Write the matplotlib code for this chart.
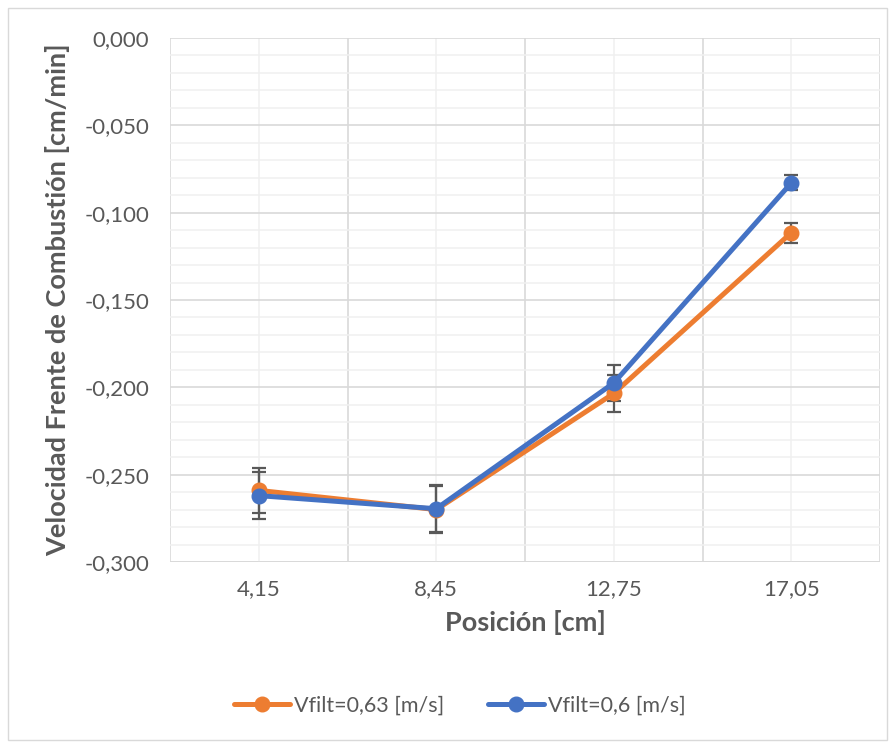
import matplotlib
matplotlib.use("Agg")
import matplotlib.pyplot as plt
from matplotlib.patches import Rectangle
from matplotlib.ticker import MultipleLocator, FixedLocator

# Data
posiciones = ["4,15", "8,45", "12,75", "17,05"]
vel_063 = [-0.259, -0.270, -0.2035, -0.1115]
err_063 = [0.013, 0.0135, 0.0105, 0.0057]
vel_06 = [-0.262, -0.2695, -0.1975, -0.083]
err_06 = [0.0135, 0.0135, 0.0105, 0.0043]
series_labels = ["Vfilt=0,63 [m/s]", "Vfilt=0,6 [m/s]"]
y_ticks = [0.0, -0.05, -0.10, -0.15, -0.20, -0.25, -0.30]

ORANGE = "#ED7D31"
BLUE = "#4472C4"
TXT = "#595959"
FONT = ["Lato", "DejaVu Sans"]

plt.rcParams["font.family"] = FONT

fig = plt.figure(figsize=(8.94, 7.47), dpi=100)
# chart border
fig.patches.append(Rectangle((8 / 894, 1 - 740 / 747), 879 / 894, 732 / 747,
                             transform=fig.transFigure, fill=False,
                             edgecolor="#D9D9D9", linewidth=1.0))

ax = fig.add_axes([170 / 894, 1 - 562 / 747, 710 / 894, 524 / 747])
x = list(range(len(posiciones)))

ax.set_xlim(-0.5, len(posiciones) - 0.5)
ax.set_ylim(-0.30, 0.0)

# grid
ax.yaxis.set_major_locator(FixedLocator(y_ticks))
ax.yaxis.set_minor_locator(MultipleLocator(0.01))
ax.xaxis.set_major_locator(FixedLocator(x))
ax.xaxis.set_minor_locator(FixedLocator([i - 0.5 for i in range(len(posiciones) + 1)]))
ax.grid(which="minor", axis="y", color="#F0F0F0", linewidth=1.1, zorder=0)
ax.grid(which="major", axis="y", color="#D9D9D9", linewidth=1.2, zorder=0.5)
ax.grid(which="major", axis="x", color="#F0F0F0", linewidth=1.1, zorder=0)
ax.grid(which="minor", axis="x", color="#D9D9D9", linewidth=1.2, zorder=0.5)
for s in ax.spines.values():
    s.set_visible(False)
ax.axhline(-0.30, color="#D9D9D9", linewidth=1.4, zorder=1)

ax.set_xticks(x)
ax.set_xticklabels(posiciones)
ax.set_yticklabels([f"{v:.3f}".replace(".", ",") for v in y_ticks])
ax.tick_params(which="both", length=0)
ax.tick_params(axis="y", pad=15, labelsize=16, labelcolor=TXT)
ax.tick_params(axis="x", pad=12, labelsize=16, labelcolor=TXT)

# error bars (behind the series lines)
for vals, errs in ((vel_063, err_063), (vel_06, err_06)):
    ax.errorbar(x, vals, yerr=errs, fmt="none", ecolor="#595959",
                elinewidth=1.6, capsize=5, capthick=1.6, zorder=2)

ax.plot(x, vel_063, color=ORANGE, linewidth=3.6, marker="o", markersize=10.5,
        label=series_labels[0], zorder=3, solid_capstyle="round")
ax.plot(x, vel_06, color=BLUE, linewidth=3.6, marker="o", markersize=10.5,
        label=series_labels[1], zorder=4, solid_capstyle="round")

ax.set_xlabel("Posición [cm]", fontsize=19.5, fontweight="bold", color=TXT, labelpad=8)
ax.set_ylabel("Velocidad Frente de Combustión [cm/min]", fontsize=19.5,
              fontweight="bold", color=TXT, labelpad=10)

leg = fig.legend(loc="center", bbox_to_anchor=(460 / 894, 1 - 706 / 747),
                 ncol=2, frameon=False, fontsize=15.5, handlelength=2.6,
                 columnspacing=2.0, handletextpad=0.2)
for t in leg.get_texts():
    t.set_color(TXT)

fig.savefig("out.png", dpi=100)
